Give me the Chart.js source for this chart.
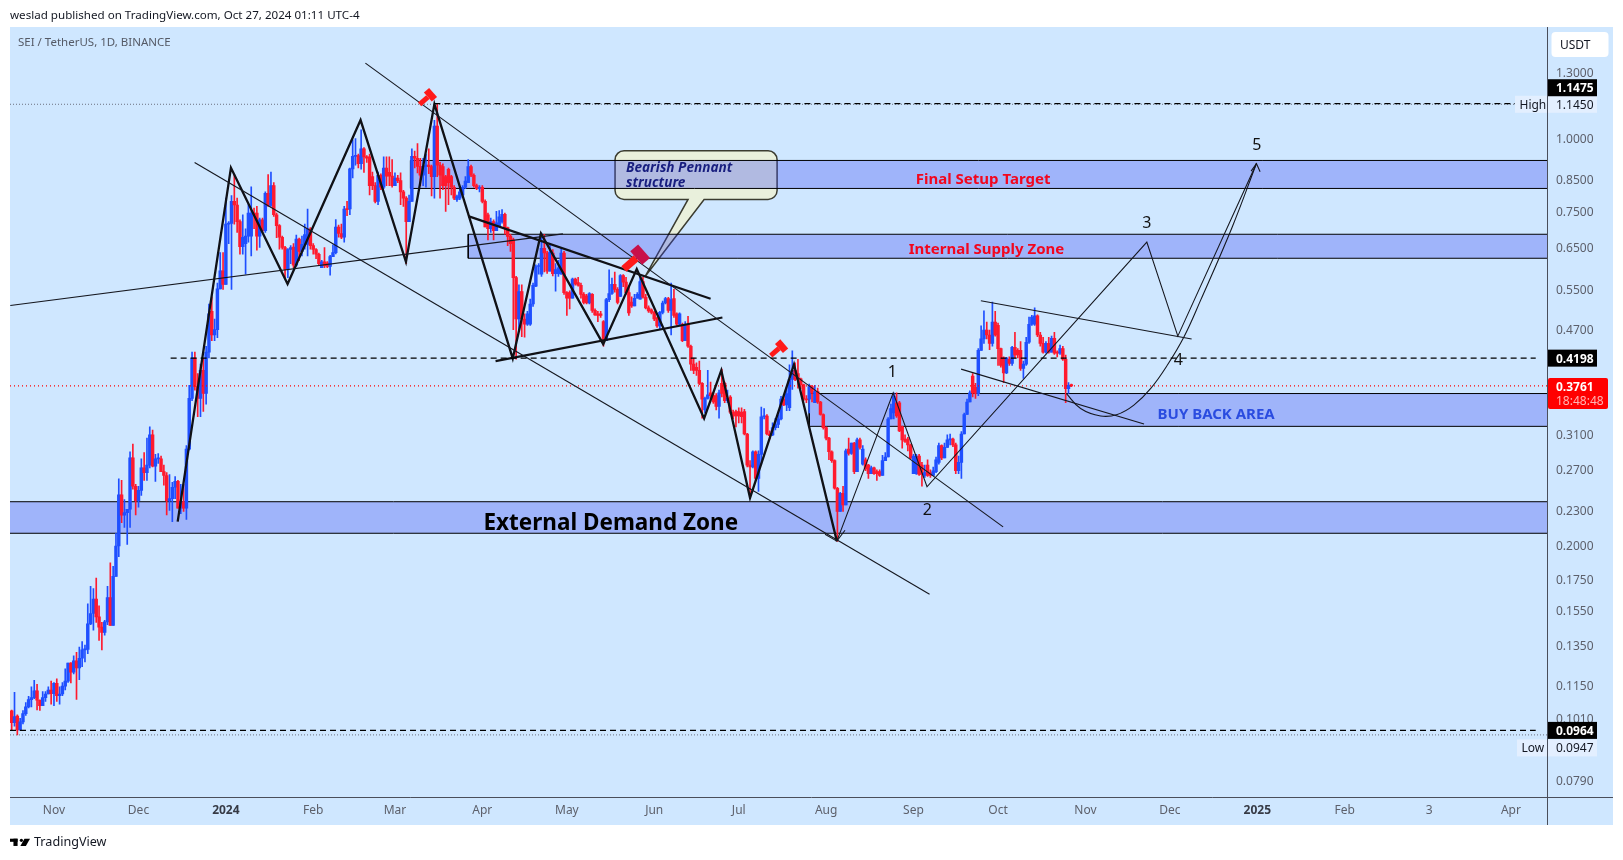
<!DOCTYPE html>
<html>
<head>
<meta charset="utf-8">
<title>SEI / TetherUS</title>
<script src="https://cdn.jsdelivr.net/npm/chart.js@4/dist/chart.umd.js"></script>
<style>
  html, body { margin: 0; padding: 0; background: #fff; }
  #wrap { position: relative; width: 1623px; height: 860px; overflow: hidden; }
  #sketch { display: block; }
  #head { position: absolute; left: 10px; top: 7px; font: 11.6px "Noto Sans", sans-serif; color: #131722; white-space: nowrap; }
  #foot { position: absolute; left: 34px; top: 833px; font: 12.6px "Noto Sans", sans-serif; color: #131722; }
  #logo { position: absolute; left: 10px; top: 837px; }
</style>
</head>
<body>
<div id="wrap">
  <canvas id="sketch" width="1623" height="860"></canvas>
  <div id="head">weslad published on TradingView.com, Oct 27, 2024 01:11 UTC-4</div>
  <svg id="logo" width="20" height="11" viewBox="0 0 29 11"><rect x="0" y="0" width="11" height="4.5"/><rect x="5" y="0" width="6" height="10.5"/><circle cx="16.5" cy="2.3" r="2.3"/><polygon points="21,0 29,0 23,10.5 15,10.5"/></svg>
  <div id="foot">TradingView</div>
</div>
<script>
// daily candles, day 0 is Oct 17 2023
var opens = [
  .1042,.0994,.102,.0966,.0997,.103,.1058,.1089,.1097,.1127,
  .1086,.1063,.1097,.1113,.1131,.1115,.1161,.1106,.1113,.1148,
  .1171,.1258,.1213,.1269,.1234,.1282,.1325,.1328,.1469,.153,
  .162,.151,.145,.142,.148,.163,.146,.1772,.1998,.2446,
  .2257,.228,.231,.283,.253,.239,.249,.272,.267,.275,
  .31,.274,.282,.282,.268,.264,.239,.241,.252,.258,
  .232,.238,.232,.293,.358,.42,.375,.358,.40,.365,
  .43,.505,.46,.47,.552,.593,.562,.713,.715,.78,
  .769,.72,.652,.66,.68,.68,.745,.745,.68,.725,
  .695,.805,.768,.83,.74,.709,.677,.65,.597,.645,
  .651,.606,.672,.64,.658,.658,.70,.655,.645,.633,
  .60,.614,.612,.603,.627,.637,.705,.687,.677,.757,
  .757,.887,.932,.935,.905,.96,.93,.93,.86,.83,
  .78,.865,.825,.89,.875,.862,.83,.855,.847,.81,
  .79,.72,.78,.932,.925,.896,.865,.896,.90,.895,
  .86,1.05,.90,.895,.86,.885,.86,.825,.785,.79,
  .80,.825,.84,.895,.865,.83,.82,.825,.78,.74,
  .70,.72,.695,.709,.72,.741,.703,.68,.67,.577,
  .49,.546,.49,.48,.48,.52,.558,.603,.585,.648,
  .636,.592,.636,.586,.586,.585,.636,.544,.544,.532,
  .574,.566,.56,.54,.537,.522,.54,.507,.50,.50,
  .485,.45,.529,.542,.562,.551,.536,.582,.567,.544,
  .524,.516,.532,.53,.568,.534,.512,.508,.503,.492,
  .477,.503,.522,.531,.507,.531,.50,.48,.48,.45,
  .48,.44,.41,.405,.40,.38,.342,.358,.366,.362,
  .362,.347,.38,.38,.355,.36,.339,.34,.34,.339,
  .34,.311,.275,.273,.29,.261,.287,.333,.334,.311,
  .31,.319,.323,.33,.357,.349,.345,.386,.40,.395,
  .387,.378,.357,.357,.375,.352,.368,.353,.336,.319,
  .306,.29,.28,.251,.229,.246,.235,.293,.288,.30,
  .268,.304,.276,.281,.275,.266,.272,.268,.268,.264,
  .28,.284,.33,.338,.352,.352,.32,.305,.305,.298,
  .266,.266,.285,.275,.264,.275,.267,.264,.268,.278,
  .297,.283,.295,.304,.305,.298,.269,.278,.311,.336,
  .353,.391,.374,.365,.433,.453,.469,.46,.445,.484,
  .478,.436,.42,.396,.418,.411,.438,.433,.433,.403,
  .41,.447,.48,.48,.496,.46,.445,.43,.445,.43,
  .454,.43,.428,.436,.418,.372,.378
];
var highs = [
  .1045,.112,.1025,.1011,.1043,.1076,.1103,.1145,.1175,.1156,
  .1088,.1124,.1124,.1145,.1171,.1164,.1182,.1145,.1164,.123,
  .1258,.126,.1295,.1312,.134,.137,.135,.159,.1703,.1689,
  .176,.1577,.1477,.149,.1703,.187,.1843,.21,.2605,.259,
  .24,.231,.29,.299,.255,.253,.282,.289,.306,.32,
  .316,.287,.288,.285,.275,.267,.265,.257,.263,.259,
  .255,.255,.297,.377,.43,.43,.395,.41,.42,.44,
  .52,.535,.49,.565,.637,.637,.79,.72,.798,.867,
  .79,.725,.74,.70,.77,.826,.76,.765,.73,.73,
  .81,.867,.876,.84,.745,.712,.68,.653,.647,.655,
  .66,.683,.675,.68,.713,.757,.703,.66,.647,.636,
  .618,.65,.615,.63,.657,.726,.71,.713,.765,.78,
  .89,.995,1.0,.94,1.035,.965,.935,.94,.876,.84,
  .876,.87,.93,.93,.93,.92,.873,.865,.873,.815,
  .795,.80,.96,.952,.98,.925,.925,.94,.96,.90,
  1.075,1.1475,.91,.905,.865,.89,.865,.83,.80,.82,
  .83,.86,.92,.90,.87,.835,.83,.83,.785,.745,
  .73,.725,.75,.752,.755,.745,.705,.685,.675,.58,
  .561,.561,.50,.505,.53,.565,.607,.61,.688,.685,
  .64,.66,.645,.61,.618,.648,.64,.546,.548,.576,
  .576,.578,.565,.544,.54,.544,.542,.51,.505,.505,
  .487,.532,.595,.576,.59,.555,.584,.584,.578,.558,
  .535,.54,.544,.58,.578,.54,.516,.51,.505,.494,
  .505,.526,.534,.534,.565,.551,.502,.502,.482,.485,
  .495,.442,.42,.412,.415,.381,.36,.40,.382,.366,
  .365,.37,.402,.382,.37,.362,.342,.342,.345,.345,
  .343,.312,.28,.291,.291,.291,.346,.344,.336,.315,
  .325,.331,.336,.361,.362,.374,.409,.432,.412,.418,
  .388,.379,.362,.379,.377,.377,.373,.354,.337,.32,
  .307,.291,.281,.252,.247,.253,.293,.306,.30,.301,
  .306,.306,.297,.283,.276,.274,.273,.27,.27,.286,
  .289,.332,.35,.366,.366,.354,.321,.31,.307,.299,
  .287,.287,.287,.278,.275,.281,.27,.273,.284,.30,
  .298,.30,.31,.311,.306,.30,.285,.314,.338,.357,
  .369,.395,.38,.436,.477,.506,.484,.469,.524,.505,
  .482,.437,.422,.421,.422,.44,.465,.436,.448,.415,
  .456,.494,.497,.512,.498,.465,.456,.448,.456,.458,
  .465,.432,.442,.44,.425,.381,.379
];
var lows = [
  .0967,.098,.0947,.0964,.0989,.1023,.1054,.1058,.1093,.1045,
  .1043,.1063,.1081,.1113,.1069,.1063,.1081,.1069,.1106,.1131,
  .1165,.1163,.1205,.109,.1178,.124,.1263,.1306,.1464,.1433,
  .1477,.1375,.1325,.1405,.1464,.146,.146,.1772,.1915,.2192,
  .215,.2011,.215,.25,.226,.233,.244,.259,.259,.272,
  .273,.258,.277,.268,.254,.226,.23,.22,.241,.232,
  .227,.229,.222,.292,.355,.37,.333,.333,.34,.35,
  .42,.45,.45,.455,.552,.551,.562,.66,.551,.713,
  .69,.633,.633,.585,.664,.629,.70,.643,.65,.69,
  .69,.765,.765,.735,.676,.646,.646,.577,.577,.61,
  .60,.603,.617,.629,.646,.629,.646,.633,.622,.606,
  .60,.60,.60,.583,.627,.634,.677,.673,.664,.737,
  .74,.856,.90,.89,.886,.875,.91,.80,.817,.775,
  .77,.817,.82,.83,.83,.825,.83,.84,.77,.765,
  .61,.72,.78,.89,.873,.83,.83,.825,.87,.797,
  .79,.86,.79,.817,.75,.77,.80,.785,.78,.785,
  .795,.82,.84,.86,.825,.817,.81,.775,.705,.67,
  .69,.67,.695,.706,.716,.685,.655,.64,.47,.418,
  .47,.457,.456,.478,.478,.515,.557,.585,.58,.59,
  .587,.592,.581,.547,.58,.585,.54,.497,.51,.532,
  .56,.558,.532,.52,.52,.52,.503,.497,.485,.493,
  .44,.45,.525,.54,.545,.52,.535,.557,.54,.497,
  .513,.516,.532,.53,.532,.51,.503,.50,.487,.474,
  .47,.50,.52,.503,.46,.493,.478,.478,.448,.45,
  .438,.40,.395,.392,.378,.331,.338,.357,.357,.351,
  .342,.331,.36,.352,.352,.337,.33,.32,.325,.325,
  .31,.273,.242,.272,.259,.248,.276,.33,.31,.305,
  .309,.316,.319,.329,.348,.341,.341,.371,.384,.373,
  .372,.355,.352,.338,.353,.352,.351,.335,.317,.304,
  .281,.278,.25,.2035,.229,.229,.235,.286,.287,.266,
  .268,.293,.275,.269,.261,.266,.265,.259,.263,.264,
  .28,.284,.33,.33,.332,.314,.294,.301,.291,.282,
  .266,.265,.264,.253,.262,.263,.262,.264,.267,.276,
  .281,.283,.295,.298,.296,.266,.266,.261,.311,.336,
  .353,.36,.358,.362,.433,.445,.453,.434,.44,.458,
  .408,.405,.381,.395,.408,.408,.42,.42,.40,.3875,
  .408,.445,.478,.478,.457,.44,.428,.428,.428,.43,
  .426,.422,.426,.416,.352,.365,.375
];
var closes = [
  .0994,.1018,.0966,.0997,.103,.1058,.1089,.1097,.1127,.1086,
  .1063,.1097,.1113,.1131,.1115,.1161,.1106,.1113,.1148,.1171,
  .1258,.1213,.1269,.1234,.1282,.1325,.1328,.1469,.153,.162,
  .151,.145,.142,.148,.163,.146,.1772,.1998,.2446,.2257,
  .228,.231,.283,.253,.239,.249,.272,.267,.275,.31,
  .274,.282,.2825,.268,.264,.239,.241,.252,.258,.232,
  .238,.232,.293,.358,.42,.375,.358,.40,.365,.43,
  .50,.46,.47,.552,.593,.562,.713,.715,.78,.769,
  .72,.652,.677,.68,.745,.745,.74,.68,.725,.695,
  .805,.768,.83,.74,.709,.677,.65,.597,.645,.65,
  .606,.672,.64,.658,.684,.70,.655,.645,.633,.61,
  .614,.605,.603,.627,.637,.705,.687,.677,.757,.755,
  .887,.932,.935,.905,.96,.93,.925,.83,.83,.78,
  .865,.825,.89,.862,.862,.83,.855,.847,.81,.79,
  .72,.78,.932,.925,.896,.865,.896,.90,.895,.86,
  1.05,.90,.865,.83,.83,.84,.825,.79,.795,.81,
  .825,.845,.895,.865,.83,.82,.825,.78,.705,.70,
  .72,.695,.717,.734,.741,.703,.679,.66,.577,.49,
  .546,.49,.48,.50,.52,.56,.603,.604,.648,.636,
  .592,.638,.586,.596,.60,.636,.544,.532,.532,.574,
  .563,.56,.54,.523,.522,.542,.507,.498,.497,.497,
  .45,.529,.542,.562,.551,.523,.582,.567,.544,.502,
  .516,.532,.54,.568,.534,.512,.506,.503,.49,.477,
  .503,.522,.531,.507,.529,.497,.48,.50,.45,.48,
  .44,.41,.40,.40,.38,.357,.358,.363,.362,.353,
  .347,.366,.365,.355,.358,.339,.334,.334,.334,.333,
  .311,.275,.273,.29,.261,.287,.333,.334,.311,.309,
  .319,.323,.33,.357,.349,.365,.386,.40,.386,.387,
  .378,.357,.356,.375,.366,.368,.353,.336,.319,.306,
  .29,.28,.251,.229,.246,.235,.291,.288,.30,.268,
  .304,.295,.293,.271,.266,.272,.266,.266,.264,.28,
  .284,.33,.344,.361,.334,.315,.304,.302,.298,.283,
  .285,.285,.265,.265,.267,.264,.264,.269,.281,.297,
  .283,.295,.304,.3045,.298,.269,.278,.311,.336,.353,
  .366,.366,.365,.433,.453,.469,.46,.445,.484,.46,
  .436,.408,.396,.42,.411,.438,.425,.425,.403,.41,
  .447,.48,.494,.496,.46,.445,.43,.445,.43,.454,
  .428,.428,.436,.418,.372,.377,.3761
];

// axes
var monthDays = [15, 45, 76, 107, 136, 167, 197, 228, 258, 289, 320, 350, 381, 411, 442, 473, 503, 532];
var monthLabels = ["Nov", "Dec", "2024", "Feb", "Mar", "Apr", "May", "Jun", "Jul", "Aug", "Sep", "Oct", "Nov", "Dec", "2025", "Feb", "3", "Apr"];
var priceTicks = [1.3, 1.0, .85, .75, .65, .55, .47, .31, .27, .23, .2, .175, .155, .135, .115, .101, .079];

// levels
var highPrice = 1.145, highTag = 1.1475, lowPrice = .0947, lowTag = .0964, midTag = .4198, lastPrice = .3761;

// zones, price boxes
var zoneStart = [141.5, 162, 283, -3];
var zoneTop = [.917, .685, .365, .238];
var zoneBottom = [.821, .623, .3206, .2101];

// drawn lines as day / price pairs
var zigzagDays = [58.9, 77.8, 97.9, 123.8, 139.9, 150, 177.8, 187.8, 209.9, 221.8, 245.7, 251.8, 262, 277.6, 292.8];
var zigzagPrices = [.22, .891, .5626, 1.0756, .6145, 1.146, .4193, .687, .4437, .597, .3307, .4, .2417, .4095, .2037];
var waveDays = [292.8, 312.8, 324.8, 402.8, 413.8, 441.7];
var wavePrices = [.2037, .366, .2525, .664, .458, .906];
var curveDays = [374.2, 379.3, 386.4, 392.3, 398.2, 404.2, 410.1, 416, 421.9, 433, 441.7];
var curvePrices = [.3653, .344, .334, .336, .3487, .3725, .4085, .4569, .528, .703, .906];
var thinDays = [[125.5, 351.8], [64.9, 325.7], [-0.5, 195.6], [343.9, 418.7], [336.9, 401.8], [288.6, 292.8, 295.7], [439.8, 441.7, 443]];
var thinPrices = [[1.347, .2155], [.9095, .1651], [.517, .686], [.5268, .4528], [.402, .3235], [.2093, .2037, .2126], [.879, .906, .877]];
var pennantDays = [[162, 248], [171.7, 252.2]];
var pennantPrices = [[.736, .531], [.415, .493]];

// chart notes
var noteTexts = ["Final Setup Target", "Internal Supply Zone", "BUY BACK AREA", "External Demand Zone", "1", "2", "3", "4", "5"];
var noteDays = [344.7, 345.9, 427.4, 212.6, 312.5, 324.9, 402.8, 414, 441.8];
var notePrices = [.855, .65, .338, .22, .4, .232, .72, .4195, .979];
var noteFonts = ["bold 15px", "bold 15px", "bold 15px", "bold 22.5px", "16px", "16px", "16px", "16px", "16px"];
var noteColors = ["#f2061e", "#f2061e", "#2a4ce0", "#000", "#111", "#111", "#111", "#111", "#111"];

// hammers and callout
var hammerDays = [147.4, 221.2, 272];
var hammerPrices = [1.175, .621, .435];
var hammerHeads = ["#ff1a1a", "#c8104a", "#ff1a1a"];
var calloutLines = ["Bearish Pennant", "structure"];
var calloutLinePrices = [.89, .84];

var fontName = '"Noto Sans", sans-serif';
var bgColor = "#cfe7ff", lineColor = "#4a4e5a", blue = "#1f4fff", red = "#ff1a2e";
var xMin = -0.6, xMax = 544.8;

function pairs(days, prices) {
  return days.map(function(d, k) { return {x: d, y: prices[k]}; });
}

function lineSet(days, prices, width, color, extra) {
  return Object.assign({
    type: "line", data: pairs(days, prices), borderWidth: width, borderColor: color,
    pointRadius: 0, fill: false, tension: 0, order: 1
  }, extra || {});
}

var datasets = [];

// zones go first so the candles stay above them
zoneTop.forEach(function(top, k) {
  datasets.push(lineSet([zoneStart[k], xMax], [top, top], 0, "transparent", {
    fill: {target: {value: zoneBottom[k]}}, backgroundColor: "rgba(50,64,238,0.3)", order: 6
  }));
  datasets.push(lineSet([xMax, zoneStart[k], zoneStart[k], xMax], [top, top, zoneBottom[k], zoneBottom[k]], 1, "#000", {order: 5}));
});

var wicks = opens.map(function(o, i) { return {x: i, y: [lows[i], highs[i]]}; });
var bodies = opens.map(function(o, i) { return {x: i, y: [o, closes[i]]}; });
var candleColors = opens.map(function(o, i) { return closes[i] >= o ? blue : red; });

datasets.push({type: "bar", data: wicks, backgroundColor: candleColors, barThickness: 1, grouped: false, minBarLength: 1, order: 4});
datasets.push({type: "bar", data: bodies, backgroundColor: candleColors, barThickness: 2.8, grouped: false, minBarLength: 1, order: 3});

// level lines
datasets.push(lineSet([xMin, xMax], [highPrice, highPrice], 1, "#6b7080", {borderDash: [1, 2], order: 2}));
datasets.push(lineSet([xMin, xMax], [lowPrice, lowPrice], 1, "#6b7080", {borderDash: [1, 2], order: 2}));
datasets.push(lineSet([xMin, xMax], [lastPrice, lastPrice], 1.2, "#ff0000", {borderDash: [1, 3], order: 2}));
datasets.push(lineSet([150, xMax - 4], [highTag, highTag], 1.2, "#000", {borderDash: [6, 4]}));
datasets.push(lineSet([56.4, xMax - 4], [midTag, midTag], 1.2, "#000", {borderDash: [6, 4]}));
datasets.push(lineSet([xMin, xMax - 4], [lowTag, lowTag], 1.2, "#000", {borderDash: [6, 4]}));

// trend lines
thinDays.forEach(function(d, k) { datasets.push(lineSet(d, thinPrices[k], 1.1, "#15171f")); });
pennantDays.forEach(function(d, k) { datasets.push(lineSet(d, pennantPrices[k], 2.2, "#101116")); });
datasets.push(lineSet(zigzagDays, zigzagPrices, 2.3, "#101116"));
datasets.push(lineSet(waveDays, wavePrices, 1.1, "#15171f"));
datasets.push(lineSet(curveDays, curvePrices, 1.1, "#15171f", {tension: 0.4}));

function tagBox(ctx, x, y, w, h, color) {
  ctx.fillStyle = color;
  ctx.fillRect(x, y - h / 2, w, h);
}

function drawHammer(ctx, x, y, size, headColor) {
  ctx.save();
  ctx.translate(x, y);
  ctx.rotate(-0.72);
  ctx.fillStyle = "#ff1a1a";
  ctx.fillRect(-10 * size, -2.5 * size, 11 * size, 5 * size);
  ctx.fillStyle = headColor;
  ctx.fillRect(1 * size, -6 * size, 7 * size, 12 * size);
  ctx.restore();
}

var sketchPlugin = {
  id: "sketch",
  beforeDraw: function(chart) {
    var ctx = chart.ctx;
    ctx.save();
    ctx.fillStyle = bgColor;
    ctx.fillRect(10, 27, 1603, 798);
    ctx.restore();
  },
  beforeDatasetsDraw: function(chart) {
    // callout sits under the zones
    var ctx = chart.ctx, xs = chart.scales.x, ys = chart.scales.y;
    var l = xs.getPixelForValue(214.1), r = xs.getPixelForValue(271.6);
    var t = ys.getPixelForValue(.953), b = ys.getPixelForValue(.786);
    var tipX = xs.getPixelForValue(224.7), tipY = ys.getPixelForValue(.579);
    var baseA = xs.getPixelForValue(240), baseB = xs.getPixelForValue(245.7);
    var rad = 9;
    ctx.save();
    ctx.beginPath();
    ctx.moveTo(l + rad, t);
    ctx.arcTo(r, t, r, b, rad);
    ctx.arcTo(r, b, l, b, rad);
    ctx.lineTo(baseB, b);
    ctx.lineTo(tipX, tipY);
    ctx.lineTo(baseA, b);
    ctx.arcTo(l, b, l, t, rad);
    ctx.arcTo(l, t, r, t, rad);
    ctx.closePath();
    ctx.fillStyle = "#e9f0dc";
    ctx.fill();
    ctx.lineWidth = 1.5;
    ctx.strokeStyle = "#3b3c30";
    ctx.stroke();
    ctx.fillStyle = "#0d1050";
    ctx.font = "italic bold 13.6px " + fontName;
    ctx.textAlign = "left";
    ctx.textBaseline = "middle";
    calloutLines.forEach(function(text, k) {
      ctx.fillText(text, xs.getPixelForValue(218), ys.getPixelForValue(calloutLinePrices[k]));
    });
    ctx.restore();
  },
  afterDatasetsDraw: function(chart) {
    var ctx = chart.ctx, xs = chart.scales.x, ys = chart.scales.y;
    ctx.save();
    ctx.textAlign = "center";
    ctx.textBaseline = "middle";
    noteTexts.forEach(function(text, k) {
      ctx.font = noteFonts[k] + " " + fontName;
      ctx.fillStyle = noteColors[k];
      ctx.fillText(text, xs.getPixelForValue(noteDays[k]), ys.getPixelForValue(notePrices[k]) + 2);
    });
    hammerDays.forEach(function(d, k) {
      drawHammer(ctx, xs.getPixelForValue(d), ys.getPixelForValue(hammerPrices[k]), k == 1 ? 1.5 : 1, hammerHeads[k]);
    });
    ctx.restore();
  },
  afterDraw: function(chart) {
    var ctx = chart.ctx, ys = chart.scales.y;
    var font = "12px " + fontName, bold = "bold 12px " + fontName;
    ctx.save();
    // frame lines that run past the plot
    ctx.strokeStyle = lineColor;
    ctx.lineWidth = 1;
    ctx.beginPath();
    ctx.moveTo(1547.5, 27);
    ctx.lineTo(1547.5, 825);
    ctx.moveTo(10, 797.5);
    ctx.lineTo(1613, 797.5);
    ctx.stroke();

    ctx.textBaseline = "middle";
    ctx.textAlign = "left";

    ctx.fillStyle = "#555a66";
    ctx.font = "11.5px " + fontName;
    ctx.fillText("SEI / TetherUS, 1D, BINANCE", 18, 43);
    ctx.font = font;

    // currency box
    ctx.beginPath();
    ctx.roundRect(1551.5, 32, 57, 25, 4);
    ctx.fillStyle = "#fff";
    ctx.fill();
    ctx.fillStyle = "#131722";
    ctx.fillText("USDT", 1560, 45.5);

    // high and low tags
    var hy = ys.getPixelForValue(highPrice);
    tagBox(ctx, 1515, hy, 32, 17, "#e3efff");
    tagBox(ctx, 1548, hy, 49, 17, "#e3efff");
    ctx.fillStyle = "#131722";
    ctx.fillText("High", 1519.5, hy + 1);
    ctx.fillText(highPrice.toFixed(4), 1556, hy + 1);
    var ly = ys.getPixelForValue(lowPrice) + 13;
    tagBox(ctx, 1517, ly, 30, 17, "#e3efff");
    tagBox(ctx, 1548, ly, 49, 17, "#e3efff");
    ctx.fillStyle = "#131722";
    ctx.fillText("Low", 1521.5, ly + 1);
    ctx.fillText(lowPrice.toFixed(4), 1556, ly + 1);

    // black level tags
    var blackTags = [[highTag, -16], [midTag, 0], [lowTag, 0]];
    blackTags.forEach(function(tag) {
      var y = ys.getPixelForValue(tag[0]) + tag[1];
      tagBox(ctx, 1548, y, 49, 17, "#000");
      ctx.fillStyle = "#fff";
      ctx.font = bold;
      ctx.fillText(tag[0].toFixed(4), 1556, y + 1);
    });

    // last price
    var py = ys.getPixelForValue(lastPrice);
    ctx.fillStyle = "#ff0000";
    ctx.beginPath();
    ctx.roundRect(1548, py - 8, 60, 31, 2);
    ctx.fill();
    ctx.fillStyle = "#fff";
    ctx.font = bold;
    ctx.fillText(lastPrice.toFixed(4), 1556, py + 2);
    ctx.fillStyle = "#ffb3b3";
    ctx.font = font;
    ctx.fillText("18:48:48", 1556, py + 16);
    ctx.restore();
  }
};

new Chart(document.getElementById("sketch"), {
  type: "bar",
  data: {datasets: datasets},
  plugins: [sketchPlugin],
  options: {
    responsive: false,
    devicePixelRatio: 1,
    animation: false,
    layout: {padding: {left: 10, right: 10, top: 27, bottom: 35}},
    plugins: {legend: {display: false}, tooltip: {enabled: false}},
    scales: {
      x: {
        type: "linear",
        min: xMin,
        max: xMax,
        offset: false,
        bounds: "data",
        grid: {display: false, drawTicks: false},
        border: {display: false},
        afterFit: function(scale) { scale.height = 27.7; },
        afterBuildTicks: function(scale) {
          scale.ticks = monthDays.map(function(d) { return {value: d}; });
        },
        ticks: {
          autoSkip: false,
          maxRotation: 0,
          padding: 6,
          callback: function(v) { return monthLabels[monthDays.indexOf(v)]; },
          color: function(c) {
            return /^\d{4}$/.test(monthLabels[monthDays.indexOf(c.tick.value)]) ? "#363a45" : "#5d606b";
          },
          font: function(c) {
            var big = c.tick && /^\d{4}$/.test(monthLabels[monthDays.indexOf(c.tick.value)]);
            return {family: fontName, size: 12, weight: big ? "bold" : "normal"};
          }
        }
      },
      y: {
        type: "logarithmic",
        position: "right",
        min: .074,
        max: 1.554,
        bounds: "data",
        grid: {display: false, drawTicks: false},
        border: {display: false},
        afterFit: function(scale) { scale.width = 66; },
        afterBuildTicks: function(scale) {
          scale.ticks = priceTicks.map(function(v) { return {value: v}; });
        },
        ticks: {
          autoSkip: false,
          padding: 9,
          labelOffset: 1,
          color: "#5d606b",
          font: {family: fontName, size: 12},
          callback: function(v) { return Number(v).toFixed(4); }
        }
      }
    }
  }
});
</script>
</body>
</html>
